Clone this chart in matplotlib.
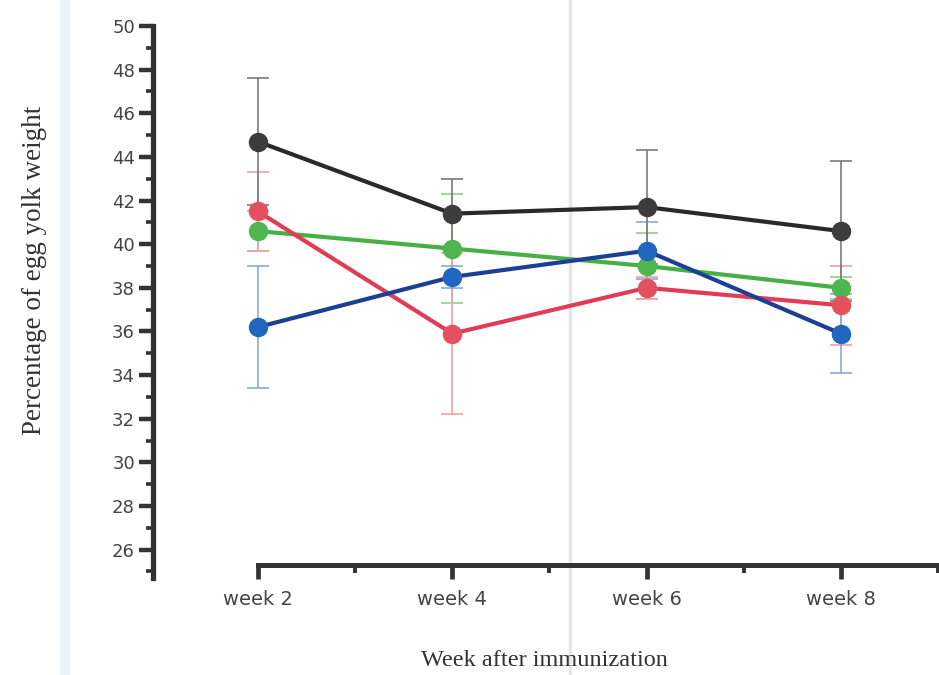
import matplotlib.pyplot as plt
from matplotlib.lines import Line2D
from matplotlib.ticker import MultipleLocator

weeks = ['week 2', 'week 4', 'week 6', 'week 8']

black_mean = [44.7, 41.4, 41.7, 40.6]
black_sd = [2.9, 1.6, 2.6, 3.2]
red_mean = [41.5, 35.9, 38.0, 37.2]
red_sd = [1.8, 3.7, 0.5, 1.8]
green_mean = [40.6, 39.8, 39.0, 38.0]
green_sd = [0.9, 2.5, 1.5, 0.5]
blue_mean = [36.2, 38.5, 39.7, 35.9]
blue_sd = [2.8, 0.5, 1.3, 1.8]

# (mean, sd, line colour, marker colour, error bar colour), drawn bottom to top
series = [
    (green_mean, green_sd, '#46b046', '#4fb64f', '#8fd08f'),
    (red_mean, red_sd, '#e23c55', '#e5505f', '#f0a0aa'),
    (blue_mean, blue_sd, '#1d3f93', '#2067c0', '#8aaad8'),
    (black_mean, black_sd, '#2a2a2a', '#3c3c3c', '#7a7a7a'),
]

fig = plt.figure(figsize=(9.39, 6.75), dpi=100)

# page fold and margin shading, behind everything
fig.add_artist(Line2D([570 / 939, 570 / 939], [0, 1], color='#e7e7e7', lw=2.5,
                      zorder=0))
fig.add_artist(Line2D([65 / 939, 65 / 939], [0, 1], color='#e8f4f7', lw=7,
                      zorder=0))

ax = fig.add_axes([153 / 939, 97 / 675, 786 / 939, 552 / 675])
ax.patch.set_alpha(0)

x = list(range(len(weeks)))
for z, (mean, sd, lc, mc, ec) in enumerate(series):
    ax.errorbar(x, mean, yerr=sd, fmt='none', ecolor=ec, elinewidth=1.2,
                capsize=8, capthick=1.2, zorder=2 + z)
    ax.plot(x, mean, color=lc, lw=3, zorder=10 + 2 * z)
    ax.plot(x, mean, 'o', ms=13, color=mc, mec=mc, zorder=11 + 2 * z)

ax.set_xlim(-0.54, 3.505)
ax.set_ylim(24.7, 50)

for s in ['top', 'right']:
    ax.spines[s].set_visible(False)
ax.spines['left'].set_linewidth(3.8)
ax.spines['left'].set_color('#333333')
ax.spines['bottom'].set_linewidth(3.6)
ax.spines['bottom'].set_color('#333333')
ax.spines['bottom'].set_position(('data', 25.3))
ax.spines['bottom'].set_bounds(0, 3.5)

ax.yaxis.set_major_locator(MultipleLocator(2))
ax.yaxis.set_minor_locator(MultipleLocator(1))
ax.set_yticks(range(26, 51, 2))
ax.set_xticks(x)
ax.set_xticklabels(weeks)
ax.set_xticks([0.5, 1.5, 2.5, 3.5], minor=True)

tick_font = ['Liberation Sans Narrow', 'DejaVu Sans']
ax.tick_params(axis='y', which='major', length=10, width=3.2, color='#333333',
               pad=3, labelsize=13, labelcolor='#444444')
ax.tick_params(axis='y', which='minor', length=5, width=2.6, color='#333333')
ax.tick_params(axis='x', which='major', length=10, width=3.4, color='#333333',
               pad=8, labelsize=14, labelcolor='#444444')
ax.tick_params(axis='x', which='minor', length=6, width=2.8, color='#333333')
for lab in ax.get_xticklabels() + ax.get_yticklabels():
    lab.set_family(tick_font)

fig.text(35 / 939, 1 - 270 / 675, 'Percentage of egg yolk weight', rotation=90,
         ha='center', va='center', family='Liberation Serif', fontsize=19.5,
         color='#333333')
fig.text(544 / 939, 1 - 660 / 675, 'Week after immunization', ha='center',
         va='center', family='Liberation Serif', fontsize=17.5, color='#333333')

fig.savefig('out.png', dpi=100)
